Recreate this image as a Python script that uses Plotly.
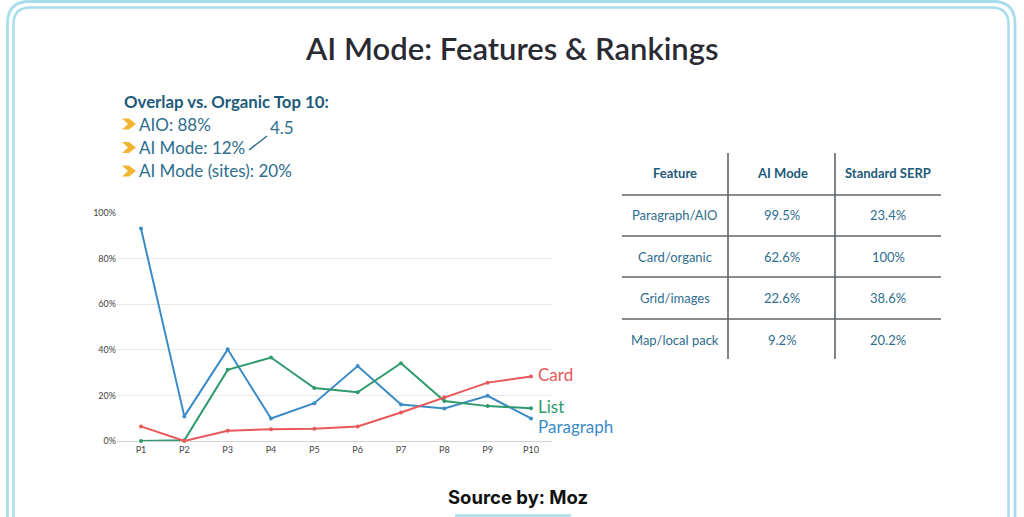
import plotly.graph_objects as go

W, H = 1024, 517

# ---------------- data ----------------
positions = ["P1", "P2", "P3", "P4", "P5", "P6", "P7", "P8", "P9", "P10"]
paragraph = [93.2, 10.8, 40.2, 9.9, 16.6, 32.9, 16.0, 14.3, 19.8, 9.9]
list_vals = [0.0, 0.3, 31.2, 36.6, 23.2, 21.4, 34.1, 17.5, 15.3, 14.4]
card = [6.4, 0.0, 4.5, 5.2, 5.4, 6.4, 12.5, 19.2, 25.6, 28.3]

y_ticks = [0, 20, 40, 60, 80, 100]
y_tick_labels = ["0%", "20%", "40%", "60%", "80%", "100%"]

overlap_title = "Overlap vs. Organic Top 10:"
overlap_items = ["AIO: 88%", "AI Mode: 12%", "AI Mode (sites): 20%"]
overlap_note = "4.5"

table_header = ["Feature", "AI Mode", "Standard SERP"]
features = ["Paragraph/AIO", "Card/organic", "Grid/images", "Map/local pack"]
ai_mode = ["99.5%", "62.6%", "22.6%", "9.2%"]
standard_serp = ["23.4%", "100%", "38.6%", "20.2%"]

title_text = "AI Mode: Features & Rankings"
source_text = "Source by: Moz"

# ---------------- colours ----------------
BLUE = "#3b8bc6"
GREEN = "#2f9a6d"
RED = "#e8585a"
TEAL_DARK = "#1d5a79"
TEAL = "#2e6d8d"
BORDER = "#a9dcec"


def px(x):
    return x / W


def py(y):
    return 1 - y / H


fig = go.Figure()

series = [("Paragraph", paragraph, BLUE), ("List", list_vals, GREEN), ("Card", card, RED)]
for name, vals, col in series:
    fig.add_trace(go.Scatter(
        x=positions, y=vals, mode="lines+markers", name=name,
        line=dict(color=col, width=2),
        marker=dict(color=col, size=4),
        cliponaxis=False, showlegend=False, hoverinfo="skip",
    ))

annotations = []
shapes = []

# end-of-line labels
for name, vals, col, ypix in [("Card", card, RED, 374), ("List", list_vals, GREEN, 406),
                              ("Paragraph", paragraph, BLUE, 426)]:
    annotations.append(dict(x=px(536), y=py(ypix), xref="paper", yref="paper", text=name,
                            showarrow=False, xanchor="left", yanchor="middle",
                            font=dict(family="Lato", size=17, color=col)))

# title
annotations.append(dict(x=px(512), y=py(48), xref="paper", yref="paper", text=title_text,
                        showarrow=False, xanchor="center", yanchor="middle",
                        font=dict(family="Lato", size=31, color="#2a2a33", weight=600)))

# overlap block
annotations.append(dict(x=px(122), y=py(101), xref="paper", yref="paper",
                        text="<b>" + overlap_title + "</b>", showarrow=False,
                        xanchor="left", yanchor="middle",
                        font=dict(family="Lato", size=16.8, color=TEAL_DARK)))
for i, item in enumerate(overlap_items):
    yy = 124 + i * 23.5
    annotations.append(dict(x=px(137), y=py(yy), xref="paper", yref="paper", text=item,
                            showarrow=False, xanchor="left", yanchor="middle",
                            font=dict(family="Lato", size=17, color=TEAL)))
    # chevron bullet
    x0 = 122
    path = (f"M {px(x0)},{py(yy-5.5)} L {px(x0+7)},{py(yy-5.5)} L {px(x0+14)},{py(yy)} "
            f"L {px(x0+7)},{py(yy+5.5)} L {px(x0)},{py(yy+5.5)} L {px(x0+6)},{py(yy)} Z")
    shapes.append(dict(type="path", path=path, xref="paper", yref="paper",
                       fillcolor="#f2b431", line=dict(width=0)))
annotations.append(dict(x=px(268), y=py(127), xref="paper", yref="paper", text=overlap_note,
                        showarrow=False, xanchor="left", yanchor="middle",
                        font=dict(family="Lato", size=17, color=TEAL)))
shapes.append(dict(type="line", xref="paper", yref="paper", x0=px(249), y0=py(150),
                   x1=px(267), y1=py(136), line=dict(color=TEAL, width=1.5)))

# table
col_x = [675, 782, 888]
row_y = [215, 257, 298, 340]
for cx, h in zip(col_x, table_header):
    annotations.append(dict(x=px(cx), y=py(173), xref="paper", yref="paper",
                            text="<b>" + h + "</b>", showarrow=False,
                            xanchor="center", yanchor="middle",
                            font=dict(family="Lato", size=13, color=TEAL_DARK)))
for ry, f, a, s in zip(row_y, features, ai_mode, standard_serp):
    for cx, t in zip(col_x, [f, a, s]):
        annotations.append(dict(x=px(cx), y=py(ry), xref="paper", yref="paper", text=t,
                                showarrow=False, xanchor="center", yanchor="middle",
                                font=dict(family="Lato", size=13, color=TEAL)))
for vx in [728, 835]:
    shapes.append(dict(type="line", xref="paper", yref="paper", x0=px(vx), x1=px(vx),
                       y0=py(153), y1=py(359), line=dict(color="#5f6468", width=1.6)))
for hy in [195, 236, 277, 319]:
    shapes.append(dict(type="line", xref="paper", yref="paper", x0=px(622), x1=px(941),
                       y0=py(hy), y1=py(hy), line=dict(color="#5f6468", width=1.6)))

# source
annotations.append(dict(x=px(518), y=py(497), xref="paper", yref="paper",
                        text="<b>" + source_text + "</b>", showarrow=False,
                        xanchor="center", yanchor="middle",
                        font=dict(family="Inter", size=18.5, color="#111111")))
shapes.append(dict(type="line", xref="paper", yref="paper", x0=px(455), x1=px(571),
                   y0=py(515.5), y1=py(515.5), line=dict(color=BORDER, width=2.5)))


# double rounded border (open at bottom)
def rounded_open(x0, x1, y0, r):
    return (f"M {px(x0)},{py(530)} L {px(x0)},{py(y0+r)} "
            f"Q {px(x0)},{py(y0)} {px(x0+r)},{py(y0)} "
            f"L {px(x1-r)},{py(y0)} Q {px(x1)},{py(y0)} {px(x1)},{py(y0+r)} "
            f"L {px(x1)},{py(530)}")


shapes.append(dict(type="path", path=rounded_open(7.5, 1015, 1.5, 22), xref="paper", yref="paper",
                   line=dict(color=BORDER, width=2.8)))
shapes.append(dict(type="path", path=rounded_open(13.5, 1008.5, 7.5, 17), xref="paper", yref="paper",
                   line=dict(color=BORDER, width=2.5)))

fig.update_layout(
    width=W, height=H,
    margin=dict(l=0, r=0, t=0, b=0, pad=0, autoexpand=False),
    paper_bgcolor="white", plot_bgcolor="white",
    annotations=annotations, shapes=shapes,
    xaxis=dict(domain=[px(117), px(552)], range=[-0.554, 9.485], type="category",
               automargin=False, ticklabelstandoff=2,
               showgrid=False, zeroline=False, showline=False, ticks="",
               tickfont=dict(family="Lato", size=9, color="#444444")),
    yaxis=dict(domain=[py(441), py(213)], range=[0, 100], tickvals=y_ticks,
               automargin=False,
               ticktext=y_tick_labels, showgrid=True, gridcolor="#e9e9e9", gridwidth=1,
               zeroline=True, zerolinecolor="#d2d2d2", zerolinewidth=1.2,
               showline=False, ticks="",
               tickfont=dict(family="Lato", size=9, color="#444444")),
)

fig.write_html("out.html")
